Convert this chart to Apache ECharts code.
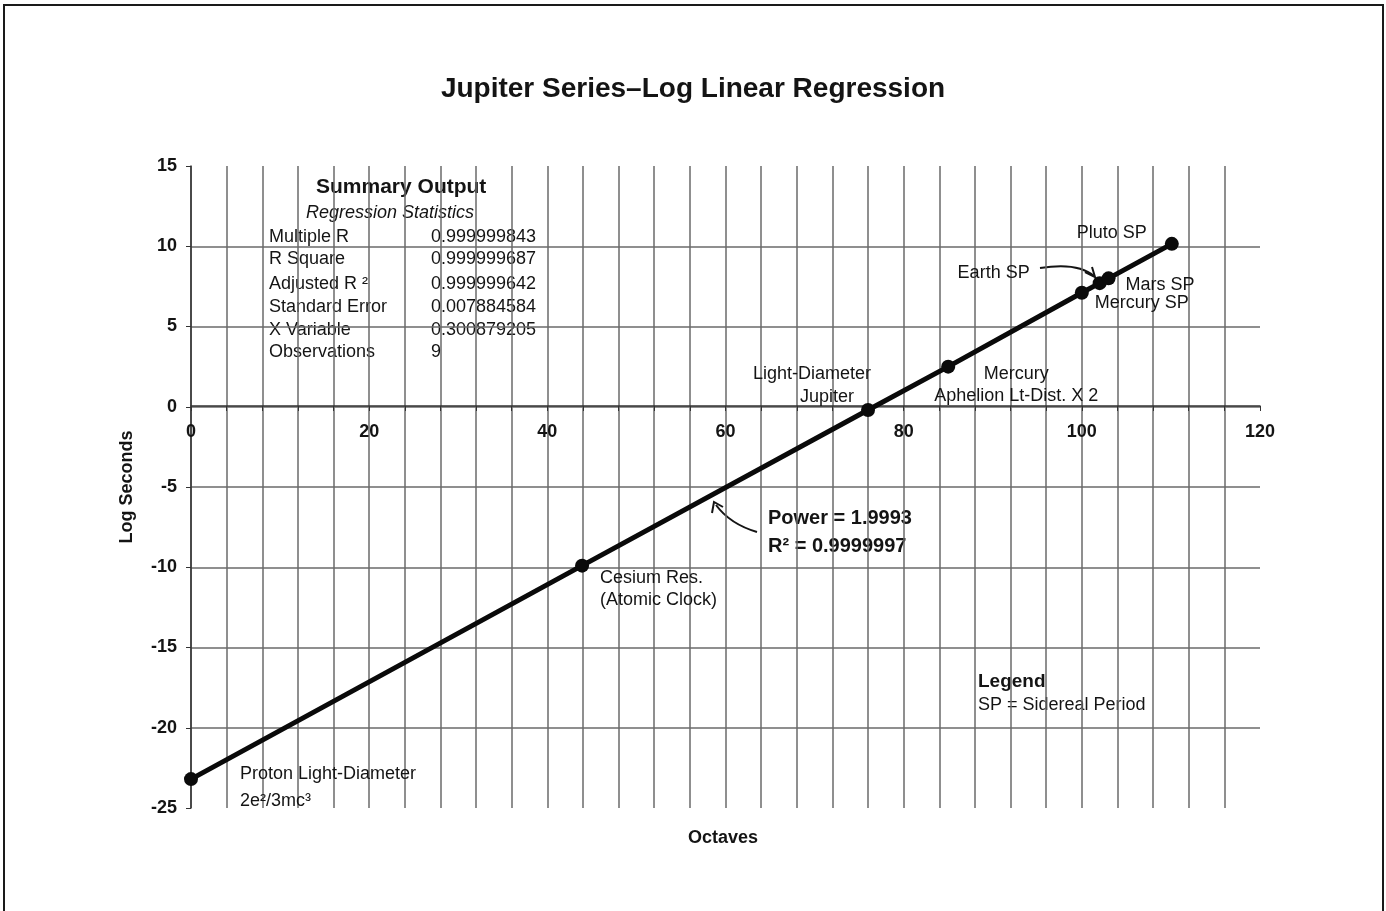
<!DOCTYPE html>
<html>
<head>
<meta charset="utf-8">
<script src="https://cdn.jsdelivr.net/npm/echarts@6.0.0/dist/echarts.min.js"></script>
<style>
  html, body { margin: 0; padding: 0; background: #fff; }
  #main { width: 1386px; height: 911px; }
</style>
</head>
<body>
<div id="main"></div>
<script>
// data
const octaves = [0, 43.9, 76, 85, 100, 102, 103, 110.1];
const logSeconds = [-23.2, -9.9, -0.2, 2.5, 7.1, 7.7, 8.0, 10.15];
const pointNames = [
  'Proton Light-Diameter\n2e²/3mc³',
  'Cesium Res.\n(Atomic Clock)',
  '{a|Light-Diameter}\n{b|Jupiter}',
  'Mercury\nAphelion Lt-Dist. X 2',
  'Mercury SP',
  'Earth SP',
  'Mars SP',
  'Pluto SP'
];
const statNames = ['Multiple R', 'R Square', 'Adjusted R ²', 'Standard Error', 'X Variable', 'Observations'];
const statValues = ['0.999999843', '0.999999687', '0.999999642', '0.007884584', '0.300879205', '9'];

// label placement for each point (offset from the dot)
const labelLayout = [
  { align: 'left', offset: [49, 8], lineHeight: 27 },
  { align: 'left', offset: [18, 23], lineHeight: 22 },
  { align: 'center', offset: [-56, -24], lineHeight: 23 },
  { align: 'center', offset: [68, 18], lineHeight: 22 },
  { align: 'left', offset: [13, 10], lineHeight: 20 },
  { align: 'right', offset: [-70, -10], lineHeight: 20 },
  { align: 'left', offset: [17, 7], lineHeight: 20 },
  { align: 'center', offset: [-60, -11], lineHeight: 20 }
];

const ink = '#141414';
const font = '"Liberation Sans", Arial, sans-serif';

var myChart = echarts.init(document.getElementById('main'));

var seriesData = octaves.map(function (x, i) {
  var l = labelLayout[i];
  return {
    value: [x, logSeconds[i]],
    name: pointNames[i],
    label: {
      show: true,
      position: 'inside',
      align: l.align,
      verticalAlign: 'middle',
      offset: l.offset,
      lineHeight: l.lineHeight,
      formatter: pointNames[i],
      color: ink,
      fontFamily: font,
      fontSize: 18,
      rich: {
        a: { fontSize: 18, fontFamily: font, color: ink, lineHeight: 23 },
        b: { fontSize: 18, fontFamily: font, color: ink, lineHeight: 23, padding: [0, 0, 0, 30] }
      }
    }
  };
});

var graphics = [
  { type: 'rect', shape: { x: 4, y: 5, width: 1379, height: 930 },
    style: { fill: 'none', stroke: '#1a1a1a', lineWidth: 2 }, silent: true },
  { type: 'text', left: 'center', x: 0, top: 75,
    style: { text: 'Jupiter Series\u2013Log Linear Regression', font: 'bold 28px ' + font, fill: ink } },
  { type: 'text', x: 688, y: 829,
    style: { text: 'Octaves', font: 'bold 18px ' + font, fill: ink } },
  { type: 'text', x: 316, y: 177,
    style: { text: 'Summary Output', font: 'bold 21px ' + font, fill: ink } },
  { type: 'text', x: 306, y: 204,
    style: { text: 'Regression Statistics', font: 'italic 18px ' + font, fill: ink } },
  { type: 'text', x: 978, y: 672,
    style: { text: 'Legend', font: 'bold 19px ' + font, fill: ink } },
  { type: 'text', x: 978, y: 696,
    style: { text: 'SP = Sidereal Period', font: '18px ' + font, fill: ink } },
  { type: 'text', x: 768, y: 508,
    style: { text: 'Power = 1.9993', font: 'bold 20px ' + font, fill: ink } },
  { type: 'text', x: 768, y: 536,
    style: { text: 'R² = 0.9999997', font: 'bold 20px ' + font, fill: ink } },
  // arrow to the fitted line
  { type: 'bezierCurve', shape: { x1: 757, y1: 532, x2: 716, y2: 505, cpx1: 730, cpy1: 524 },
    style: { stroke: ink, lineWidth: 2, fill: 'none' } },
  { type: 'polyline', shape: { points: [[712, 513], [714, 502], [723, 507]] },
    style: { stroke: ink, lineWidth: 2, fill: 'none' } },
  // arrow to Earth SP
  { type: 'bezierCurve', shape: { x1: 1040, y1: 268, x2: 1094, y2: 276, cpx1: 1078, cpy1: 262 },
    style: { stroke: ink, lineWidth: 2, fill: 'none' } },
  { type: 'polyline', shape: { points: [[1085, 272], [1095, 277], [1092, 267]] },
    style: { stroke: ink, lineWidth: 2, fill: 'none' } }
];

var rowY = [228, 250, 275, 298, 321, 343];
statNames.forEach(function (n, i) {
  graphics.push({ type: 'text', x: 269, y: rowY[i], style: { text: n, font: '18px ' + font, fill: ink } });
  graphics.push({ type: 'text', x: 431, y: rowY[i], style: { text: statValues[i], font: '18px ' + font, fill: ink } });
});

myChart.setOption({
  animation: false,
  backgroundColor: '#fff',
  grid: { left: 191, right: 126, top: 166, bottom: 103, containLabel: false, outerBoundsMode: 'none' },
  xAxis: {
    type: 'value',
    min: 0,
    max: 120,
    interval: 4,
    position: 'bottom',
    offset: -402,
    axisLine: { onZero: false, lineStyle: { color: '#333', width: 1.5 } },
    axisTick: { show: true, length: 5, lineStyle: { color: '#333' } },
    axisLabel: {
      margin: 17,
      fontFamily: font,
      fontWeight: 'bold',
      fontSize: 18,
      color: ink,
      formatter: function (v) { return v % 20 === 0 ? String(v) : ''; }
    },
    splitLine: { show: true, showMaxLine: false, lineStyle: { color: '#6a6a6a', width: 1.5 } }
  },
  yAxis: {
    type: 'value',
    min: -25,
    max: 15,
    interval: 5,
    name: 'Log Seconds',
    nameLocation: 'middle',
    nameGap: 55,
    nameTextStyle: { fontFamily: font, fontWeight: 'bold', fontSize: 18, color: ink },
    axisLine: { show: true, lineStyle: { color: '#333', width: 1.5 } },
    axisTick: { show: true, length: 5, lineStyle: { color: '#333' } },
    axisLabel: { margin: 14, fontFamily: font, fontWeight: 'bold', fontSize: 18, color: ink },
    splitLine: { show: true, showMinLine: false, showMaxLine: false, lineStyle: { color: '#6a6a6a', width: 1.5 } }
  },
  graphic: graphics,
  series: [
    {
      type: 'line',
      data: seriesData,
      symbol: 'circle',
      symbolSize: 14,
      itemStyle: { color: '#0a0a0a' },
      lineStyle: { color: '#0a0a0a', width: 5 },
      z: 5
    }
  ]
});
</script>
</body>
</html>
